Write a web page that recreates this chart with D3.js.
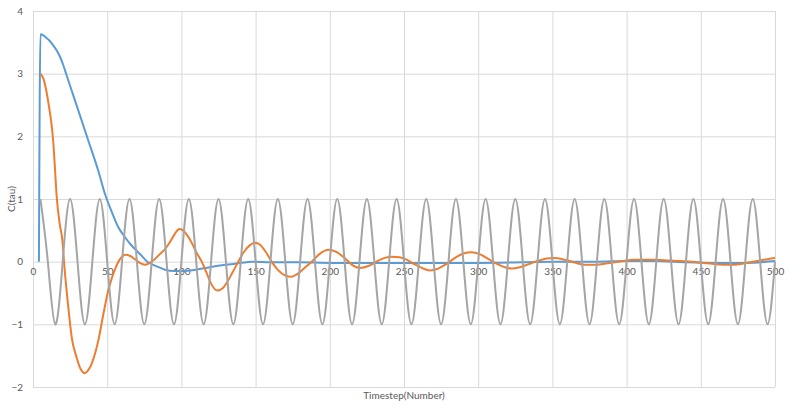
<!DOCTYPE html>
<html>
<head>
<meta charset="utf-8">
<script src="https://cdn.jsdelivr.net/npm/d3@7"></script>
<style>
  html, body { margin: 0; padding: 0; background: #fff; }
  svg text { font-family: Lato, "Open Sans", "Liberation Sans", sans-serif; fill: #595959; }
</style>
</head>
<body>
<svg id="chart" width="800" height="410"></svg>
<script>
// ---- data ----
const xTicks = [0, 50, 100, 150, 200, 250, 300, 350, 400, 450, 500];
const yTicks = [-2, -1, 0, 1, 2, 3, 4];
const xTitle = "Timestep(Number)";
const yTitle = "C(tau)";

// blue series: [timestep, value]
const blueSeries = [
  [4, 0], [5, 3.63], [6.5, 3.62], [8.1, 3.59], [11, 3.53], [13.7, 3.45], [16, 3.37],
  [18.2, 3.27], [20.5, 3.13], [22.7, 2.97], [27.2, 2.65], [31.7, 2.33], [37.3, 1.93],
  [44, 1.45], [48.5, 1.08], [53, 0.8], [57.5, 0.55], [62, 0.39], [66, 0.27], [70, 0.17],
  [73, 0.1], [77, 0.0], [80, -0.04], [85, -0.09], [89, -0.13], [95, -0.15], [100, -0.15],
  [106, -0.14], [114, -0.11], [121, -0.08], [130, -0.05], [137, -0.03], [148, 0.0],
  [160, -0.01], [180, -0.01], [200, -0.02], [250, -0.02], [300, -0.02], [330, -0.01],
  [350, 0.0], [380, 0.0], [400, 0.01], [420, 0.01], [440, -0.01], [460, -0.02],
  [480, -0.02], [500, 0.01]
];

// orange series: [timestep, value]
const orangeSeries = [
  [5, 3.0], [7, 2.92], [9.2, 2.7], [11, 2.44], [12.6, 2.17], [13.7, 1.9], [14.5, 1.6],
  [16, 1.03], [18, 0.6], [19.8, 0.34], [20.9, 0.0], [21.6, -0.2], [23.8, -0.73],
  [26.1, -1.21], [29.4, -1.53], [32, -1.71], [35, -1.78], [37, -1.74], [39.5, -1.63],
  [42, -1.45], [44, -1.26], [47.4, -0.84], [50.7, -0.46], [53, -0.27], [55.3, -0.12],
  [58.6, 0.04], [62.4, 0.11], [65.5, 0.09], [68.7, 0.04], [72, -0.02], [75.5, -0.05],
  [78.5, -0.02], [82, 0.04], [85.5, 0.12], [89, 0.2], [93, 0.34], [96, 0.46], [98.6, 0.52],
  [101, 0.5], [104, 0.42], [107, 0.3], [110, 0.15], [113.7, 0.0], [117, -0.18], [120, -0.35],
  [124.2, -0.46], [128, -0.42], [131, -0.32], [134.5, -0.17], [138.3, 0.0], [142, 0.15],
  [146, 0.26], [149.6, 0.3], [153, 0.27], [157, 0.15], [160.8, 0.0], [165, -0.13],
  [170, -0.22], [174.3, -0.24], [178, -0.2], [183, -0.1], [187.8, 0.0], [193, 0.12],
  [199, 0.19], [204, 0.16], [210, 0.06], [215, -0.05], [220.4, -0.1], [226, -0.07],
  [232, 0.01], [237, 0.06], [241.7, 0.08], [247, 0.07], [252, 0.03], [257, -0.04],
  [262, -0.1], [267.5, -0.14], [273, -0.11], [279, -0.03], [285, 0.07], [290, 0.13],
  [295.6, 0.15], [301, 0.12], [307, 0.04], [313, -0.04], [318, -0.09], [322.6, -0.11],
  [328, -0.09], [334, -0.04], [340, 0.01], [346, 0.05], [351.7, 0.06], [357, 0.04],
  [363, 0.0], [369, -0.04], [374, -0.05], [380, -0.05], [386, -0.03], [392, -0.01],
  [398, 0.01], [404, 0.03], [411, 0.03], [420, 0.03], [428, 0.02], [436, 0.01], [444, 0.0],
  [452, -0.02], [460, -0.04], [469.7, -0.05], [476, -0.04], [483, -0.01], [490, 0.02],
  [495, 0.04], [500, 0.06]
];

// gray series: values read every 5 timesteps, starting at timestep 5
const grayStart = 5;
const grayStep = 5;
const grayValues = [
  1, 0, -1, 0, 1, 0, -1, 0, 1, 0, -1, 0, 1, 0, -1, 0, 1, 0, -1, 0,
  1, 0, -1, 0, 1, 0, -1, 0, 1, 0, -1, 0, 1, 0, -1, 0, 1, 0, -1, 0,
  1, 0, -1, 0, 1, 0, -1, 0, 1, 0, -1, 0, 1, 0, -1, 0, 1, 0, -1, 0,
  1, 0, -1, 0, 1, 0, -1, 0, 1, 0, -1, 0, 1, 0, -1, 0, 1, 0, -1, 0,
  1, 0, -1, 0, 1, 0, -1, 0, 1, 0, -1, 0, 1, 0, -1, 0, 1, 0, -1, 0
];

// ---- layout ----
const margin = { left: 33, right: 25, top: 11, bottom: 23 };
const W = 800, H = 410;
const svg = d3.select("#chart");

const x = d3.scaleLinear().domain([0, 500]).range([margin.left, W - margin.right]);
const y = d3.scaleLinear().domain([-2, 4]).range([H - margin.bottom, margin.top]);

const gridColor = "#d9d9d9";

// horizontal gridlines
svg.append("g")
  .attr("transform", `translate(${margin.left},0)`)
  .call(d3.axisLeft(y).tickValues(yTicks).tickSize(-(x(500) - x(0))).tickFormat(""))
  .call(g => g.select(".domain").remove())
  .call(g => g.selectAll("line").attr("stroke", gridColor).attr("stroke-width", 1));

// vertical gridlines
svg.append("g")
  .attr("transform", `translate(0,${y(-2)})`)
  .call(d3.axisBottom(x).tickValues(xTicks).tickSize(-(y(-2) - y(4))).tickFormat(""))
  .call(g => g.select(".domain").remove())
  .call(g => g.selectAll("line").attr("stroke", gridColor).attr("stroke-width", 1));

// y tick labels
svg.append("g")
  .attr("transform", `translate(${margin.left},0)`)
  .call(d3.axisLeft(y).tickValues(yTicks).tickSize(0).tickPadding(10).tickFormat(d3.format("d")))
  .call(g => g.select(".domain").remove())
  .call(g => g.selectAll("text").style("font-size", "10px").attr("fill", "#595959"));

// x tick labels (axis crosses at y = 0)
svg.append("g")
  .attr("transform", `translate(0,${y(0)})`)
  .call(d3.axisBottom(x).tickValues(xTicks).tickSize(0).tickPadding(6).tickFormat(d3.format("d")))
  .call(g => g.select(".domain").remove())
  .call(g => g.selectAll("text").style("font-size", "10px").attr("fill", "#595959"));

// series
const grayData = grayValues.map((v, i) => [grayStart + i * grayStep, v]);

const lineMono = d3.line().x(d => x(d[0])).y(d => y(d[1])).curve(d3.curveMonotoneX);
const lineNat = d3.line().x(d => x(d[0])).y(d => y(d[1])).curve(d3.curveNatural);

svg.append("path").datum(blueSeries)
  .attr("d", lineMono).attr("fill", "none")
  .attr("stroke", "#5B9BD5").attr("stroke-width", 2).attr("stroke-linejoin", "round");

svg.append("path").datum(orangeSeries)
  .attr("d", lineMono).attr("fill", "none")
  .attr("stroke", "#ED7D31").attr("stroke-width", 2).attr("stroke-linejoin", "round");

svg.append("path").datum(grayData)
  .attr("d", lineNat).attr("fill", "none")
  .attr("stroke", "#A5A5A5").attr("stroke-width", 2).attr("stroke-linejoin", "round");

// axis titles
svg.append("text")
  .attr("x", (x(0) + x(500)) / 2).attr("y", 399)
  .attr("text-anchor", "middle").style("font-size", "10px")
  .text(xTitle);

svg.append("text")
  .attr("transform", `translate(15,${(y(4) + y(-2)) / 2}) rotate(-90)`)
  .attr("text-anchor", "middle").style("font-size", "10px")
  .text(yTitle);
</script>
</body>
</html>
